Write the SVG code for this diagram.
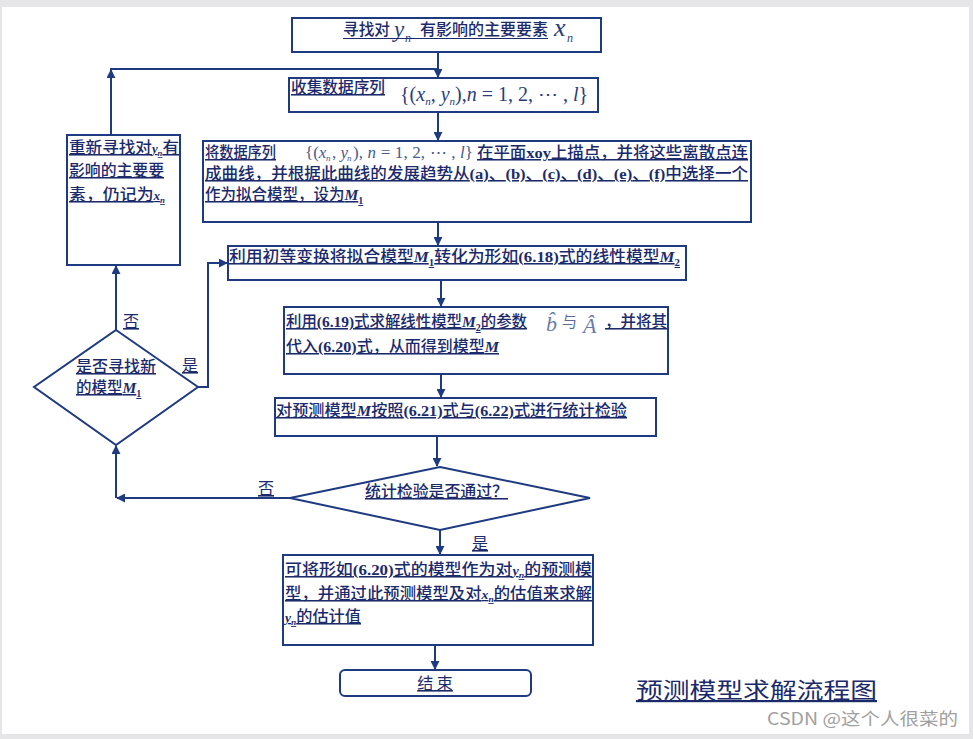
<svg xmlns="http://www.w3.org/2000/svg" width="973" height="739" viewBox="0 0 973 739">
<defs>
<style>
.box{fill:#fff;stroke:#1E3A80;stroke-width:2}
.cn{font-family:"Noto Sans CJK SC","Noto Sans",sans-serif;font-size:15.5px;font-weight:500;fill:#1B2A6B;text-decoration:underline}
.lat{font-family:"Liberation Serif",serif;font-weight:bold}
.mi{font-family:"Liberation Serif",serif;font-style:italic;font-weight:bold}
.math{font-family:"Liberation Serif",serif;font-style:italic;fill:#2A3C7A;font-weight:normal}
.mr{font-family:"Liberation Serif",serif;font-style:normal}
.conn path{fill:none;stroke:#1E3A80;stroke-width:2}
.lbl{font-family:"Noto Sans CJK SC",sans-serif;font-size:16px;fill:#1B2A6B;text-decoration:underline}
</style>
<marker id="ah" viewBox="0 0 10 10" refX="9" refY="5" markerWidth="9" markerHeight="9" markerUnits="userSpaceOnUse" orient="auto">
<path d="M0,0 L10,5 L0,10 Z" fill="#1E3A80"/>
</marker>
</defs>
<rect x="0" y="0" width="973" height="739" fill="#E6E6E8"/>
<rect x="2" y="7" width="967" height="727" fill="#fff"/>

<g class="conn">
<path d="M438,52 V77" marker-end="url(#ah)"/>
<path d="M438,112 V140" marker-end="url(#ah)"/>
<path d="M438,222 V245" marker-end="url(#ah)"/>
<path d="M441,280 V306" marker-end="url(#ah)"/>
<path d="M441,374 V397" marker-end="url(#ah)"/>
<path d="M437,436 V466" marker-end="url(#ah)"/>
<path d="M440,530 V554" marker-end="url(#ah)"/>
<path d="M435,645 V669" marker-end="url(#ah)"/>
<path d="M290,498 H117" marker-end="url(#ah)"/>
<path d="M116,498 V446" marker-end="url(#ah)"/>
<path d="M116,330 V266" marker-end="url(#ah)"/>
<path d="M198,387 H208 V263 H227" marker-end="url(#ah)"/>
<path d="M111,135 V70" marker-end="url(#ah)"/>
<path d="M110,69 H438"/>
</g>

<g id="n1">
<rect class="box" x="292" y="18" width="309" height="34"/>
<text x="343" y="35" style="font-family:'Noto Sans CJK SC',sans-serif;font-size:16px;font-weight:500;fill:#1B2A6B" textLength="47" lengthAdjust="spacingAndGlyphs">寻找对</text>
<text x="394" y="37" style="font-family:'Liberation Serif',serif;font-style:italic;font-size:23px;fill:#2A3C7A">y</text>
<text x="405" y="42" style="font-family:'Liberation Serif',serif;font-style:italic;font-size:12px;fill:#2A3C7A">n</text>
<text x="420" y="35" style="font-family:'Noto Sans CJK SC',sans-serif;font-size:16px;font-weight:500;fill:#1B2A6B" textLength="128" lengthAdjust="spacingAndGlyphs">有影响的主要要素</text>
<line x1="343" y1="38.5" x2="548" y2="38.5" stroke="#1B2A6B" stroke-width="1"/>
<text x="554" y="36" style="font-family:'Liberation Serif',serif;font-style:italic;font-size:26px;fill:#2A3C7A">x</text>
<text x="567" y="42" style="font-family:'Liberation Serif',serif;font-style:italic;font-size:12px;fill:#2A3C7A">n</text>
</g>

<g id="n2">
<rect class="box" x="289" y="78" width="309" height="34"/>
<text class="cn" x="291" y="93" textLength="94" lengthAdjust="spacingAndGlyphs">收集数据序列</text>
<text class="math" x="400" y="101" style="font-size:20px"><tspan class="mr">{(</tspan>x<tspan style="font-size:11px" dy="4">n</tspan><tspan dy="-4" class="mr">, </tspan>y<tspan style="font-size:11px" dy="4">n</tspan><tspan dy="-4" class="mr">),</tspan>n<tspan class="mr"> = 1, 2, ⋯ , </tspan>l<tspan class="mr">}</tspan></text>
</g>

<g id="n3">
<rect class="box" x="203" y="141" width="548" height="81"/>
<text class="cn" x="205" y="158" textLength="71" lengthAdjust="spacingAndGlyphs">将数据序列</text>
<text class="math" x="305" y="158" style="font-size:17px;fill:#4A5A8A"><tspan class="mr">{(</tspan>x</text>
<text class="math" x="326" y="161" style="font-size:9px;fill:#4A5A8A">n</text>
<text class="math" x="332" y="158" style="font-size:17px;fill:#4A5A8A"><tspan class="mr">, </tspan>y</text>
<text class="math" x="347" y="161" style="font-size:9px;fill:#4A5A8A">n</text>
<text class="math" x="353" y="158" style="font-size:17px;fill:#4A5A8A" textLength="120" lengthAdjust="spacing"><tspan class="mr">), </tspan>n<tspan class="mr"> = 1, 2, ⋯ , </tspan>l<tspan class="mr">}</tspan></text>
<text class="cn" x="477" y="158" textLength="271" lengthAdjust="spacingAndGlyphs">在平面<tspan class="lat">xoy</tspan>上描点，并将这些离散点连</text>
<text class="cn" x="205" y="179" textLength="543" lengthAdjust="spacingAndGlyphs">成曲线，并根据此曲线的发展趋势从<tspan class="lat">(a)</tspan>、<tspan class="lat">(b)</tspan>、<tspan class="lat">(c)</tspan>、<tspan class="lat">(d)</tspan>、<tspan class="lat">(e)</tspan>、<tspan class="lat">(f)</tspan>中选择一个</text>
<text class="cn" x="205" y="200">作为拟合模型，设为<tspan class="mi">M</tspan><tspan class="lat" style="font-size:10px" dy="4">1</tspan></text>
</g>

<g id="n4">
<rect class="box" x="228" y="246" width="458" height="34"/>
<text class="cn" x="229" y="262" textLength="451" lengthAdjust="spacingAndGlyphs">利用初等变换将拟合模型<tspan class="mi">M</tspan><tspan class="lat" style="font-size:10px" dy="4">1</tspan><tspan dy="-4">转化为形如</tspan><tspan class="lat">(6.18)</tspan>式的线性模型<tspan class="mi">M</tspan><tspan class="lat" style="font-size:10px" dy="4">2</tspan></text>
</g>

<g id="n5">
<rect class="box" x="284" y="307" width="384" height="67"/>
<text class="cn" x="286" y="327" textLength="241" lengthAdjust="spacingAndGlyphs">利用<tspan class="lat">(6.19)</tspan>式求解线性模型<tspan class="mi">M</tspan><tspan class="lat" style="font-size:10px" dy="4">2</tspan><tspan dy="-4">的参数</tspan></text>
<text x="546" y="331" style="font-family:'Liberation Serif',serif;font-style:italic;font-size:22px;fill:#6A7AA8">b̂</text>
<text x="562" y="327" style="font-family:'Noto Sans CJK SC',sans-serif;font-size:15px;fill:#5A6A98">与</text>
<text x="583" y="333" style="font-family:'Liberation Serif',serif;font-style:italic;font-size:22px;fill:#6A7AA8">Â</text>
<text class="cn" x="605" y="327" textLength="62" lengthAdjust="spacingAndGlyphs">，并将其</text>
<text class="cn" x="286" y="352" textLength="213" lengthAdjust="spacingAndGlyphs">代入<tspan class="lat">(6.20)</tspan>式，从而得到模型<tspan class="mi">M</tspan></text>
</g>

<g id="n6">
<rect class="box" x="275" y="398" width="381" height="38"/>
<text class="cn" x="276" y="416" textLength="351" lengthAdjust="spacingAndGlyphs">对预测模型<tspan class="mi">M</tspan>按照<tspan class="lat">(6.21)</tspan>式与<tspan class="lat">(6.22)</tspan>式进行统计检验</text>
</g>

<g id="d1">
<polygon class="box" points="440,467 590,498 440,530 290,498"/>
<text class="cn" x="365" y="497" textLength="143" lengthAdjust="spacingAndGlyphs">统计检验是否通过？</text>
</g>

<g id="n7">
<rect class="box" x="283" y="555" width="310" height="90"/>
<text class="cn" x="285" y="575" textLength="307" lengthAdjust="spacingAndGlyphs">可将形如<tspan class="lat">(6.20)</tspan>式的模型作为对<tspan class="mi" style="font-size:13px">y</tspan><tspan class="mi" style="font-size:9px" dy="3">n</tspan><tspan dy="-3">的预测模</tspan></text>
<text class="cn" x="285" y="599" textLength="307" lengthAdjust="spacingAndGlyphs">型，并通过此预测模型及对<tspan class="mi" style="font-size:13px">x</tspan><tspan class="mi" style="font-size:9px" dy="3">n</tspan><tspan dy="-3">的估值来求解</tspan></text>
<text class="cn" x="285" y="622" textLength="76" lengthAdjust="spacingAndGlyphs"><tspan class="mi" style="font-size:13px">y</tspan><tspan class="mi" style="font-size:9px" dy="3">n</tspan><tspan dy="-3">的估计值</tspan></text>
</g>

<g id="end">
<rect x="340" y="670" width="191" height="26" rx="5" ry="5" fill="#fff" stroke="#1E3A80" stroke-width="2"/>
<text class="cn" x="435" y="689" text-anchor="middle" style="font-weight:normal;font-size:16px">结  束</text>
</g>

<g id="n8">
<rect class="box" x="67" y="135" width="113" height="130"/>
<text class="cn" x="69" y="153" textLength="110" lengthAdjust="spacingAndGlyphs">重新寻找对<tspan class="mi" style="font-size:12px">y</tspan><tspan class="mi" style="font-size:8px" dy="3">n</tspan><tspan dy="-3">有</tspan></text>
<text class="cn" x="69" y="176" textLength="95" lengthAdjust="spacingAndGlyphs">影响的主要要</text>
<text class="cn" x="69" y="200" textLength="96" lengthAdjust="spacingAndGlyphs">素，仍记为<tspan class="mi" style="font-size:12px">x</tspan><tspan class="mi" style="font-size:8px" dy="3">n</tspan></text>
</g>

<g id="d2">
<polygon class="box" points="116,330 198,387 116,445 34,387"/>
<text class="cn" x="76" y="372" textLength="80" lengthAdjust="spacingAndGlyphs">是否寻找新</text>
<text class="cn" x="76" y="393">的模型<tspan class="mi">M</tspan><tspan class="lat" style="font-size:10px" dy="4">1</tspan></text>
</g>

<g id="labels">
<text class="lbl" x="258" y="494">否</text>
<text class="lbl" x="123" y="327">否</text>
<text class="lbl" x="182" y="371">是</text>
<text class="lbl" x="472" y="549">是</text>
</g>

<g id="title">
<text x="636" y="698" style="font-family:'Noto Sans CJK SC',sans-serif;font-size:22px;fill:#1B2A6B;text-decoration:underline" textLength="241" lengthAdjust="spacingAndGlyphs">预测模型求解流程图</text>
<text x="767" y="725" style="font-family:'Noto Sans CJK SC',sans-serif;font-size:17px;fill:#A0A0A0" textLength="191" lengthAdjust="spacingAndGlyphs">CSDN @这个人很菜的</text>
</g>
</svg>
